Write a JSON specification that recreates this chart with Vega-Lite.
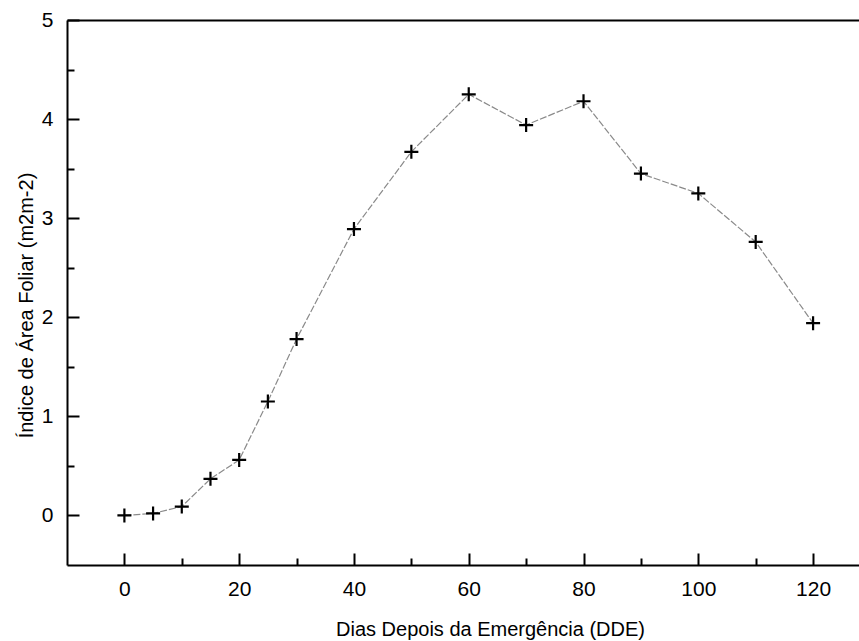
{
  "$schema": "https://vega.github.io/schema/vega-lite/v6.json",
  "width": 792,
  "height": 545,
  "autosize": {"type": "none"},
  "padding": {"left": 67, "top": 20, "right": 0, "bottom": 76},
  "background": "white",
  "config": {
    "view": {"stroke": null},
    "font": "Liberation Sans",
    "axis": {
      "grid": false,
      "domainColor": "black",
      "tickColor": "black",
      "labelColor": "black",
      "titleColor": "black",
      "domainWidth": 2,
      "tickWidth": 2,
      "labelFont": "Liberation Sans",
      "titleFont": "Liberation Sans",
      "labelFontSize": 21,
      "titleFontSize": 20,
      "titleFontWeight": "normal",
      "labelFlush": false,
      "labelOverlap": false
    }
  },
  "data": {
    "values": [
      {"dde": 0, "iaf": 0.0},
      {"dde": 5, "iaf": 0.02},
      {"dde": 10, "iaf": 0.09},
      {"dde": 15, "iaf": 0.37},
      {"dde": 20, "iaf": 0.56},
      {"dde": 25, "iaf": 1.15},
      {"dde": 30, "iaf": 1.78},
      {"dde": 40, "iaf": 2.89},
      {"dde": 50, "iaf": 3.67},
      {"dde": 60, "iaf": 4.25},
      {"dde": 70, "iaf": 3.94},
      {"dde": 80, "iaf": 4.18},
      {"dde": 90, "iaf": 3.45},
      {"dde": 100, "iaf": 3.25},
      {"dde": 110, "iaf": 2.76},
      {"dde": 120, "iaf": 1.94}
    ]
  },
  "layer": [
    {
      "mark": {"type": "line", "color": "#8a8a8a", "strokeWidth": 1.2, "strokeDash": [7, 2]},
      "encoding": {
        "x": {
          "field": "dde", "type": "quantitative",
          "scale": {"domain": [-10, 128], "nice": false, "zero": false},
          "axis": {
            "orient": "bottom",
            "values": [0, 20, 40, 60, 80, 100, 120],
            "tickSize": -12,
            "labelBaseline": "alphabetic",
            "labelPadding": 42,
            "title": "Dias Depois da Emergência (DDE)",
            "titleX": 423,
            "titleY": 70,
            "titleBaseline": "alphabetic"
          }
        },
        "y": {
          "field": "iaf", "type": "quantitative",
          "scale": {"domain": [-0.5, 5], "nice": false, "zero": false},
          "axis": {
            "orient": "left",
            "values": [0, 1, 2, 3, 4, 5],
            "tickSize": -12,
            "labelPadding": 26,
            "title": "Índice de Área Foliar (m2m-2)",
            "titleX": -35,
            "titleY": 285,
            "titleBaseline": "alphabetic"
          }
        }
      }
    },
    {
      "mark": {"type": "point", "shape": "M-1,0H1M0,-1V1", "size": 196, "filled": false, "stroke": "black", "strokeWidth": 2.2, "opacity": 1},
      "encoding": {
        "x": {
          "field": "dde", "type": "quantitative",
          "axis": {"orient": "bottom", "values": [10, 30, 50, 70, 90, 110], "tickSize": -7, "labels": false, "domain": false, "title": null}
        },
        "y": {
          "field": "iaf", "type": "quantitative",
          "axis": {"orient": "left", "values": [0.5, 1.5, 2.5, 3.5, 4.5], "tickSize": -7, "labels": false, "domain": false, "title": null}
        }
      }
    },
    {
      "mark": {"type": "rule", "opacity": 0},
      "encoding": {
        "x": {
          "field": "dde", "type": "quantitative",
          "axis": {"orient": "top", "ticks": false, "labels": false, "domain": true, "title": null}
        }
      }
    }
  ],
  "resolve": {"axis": {"x": "independent", "y": "independent"}}
}
